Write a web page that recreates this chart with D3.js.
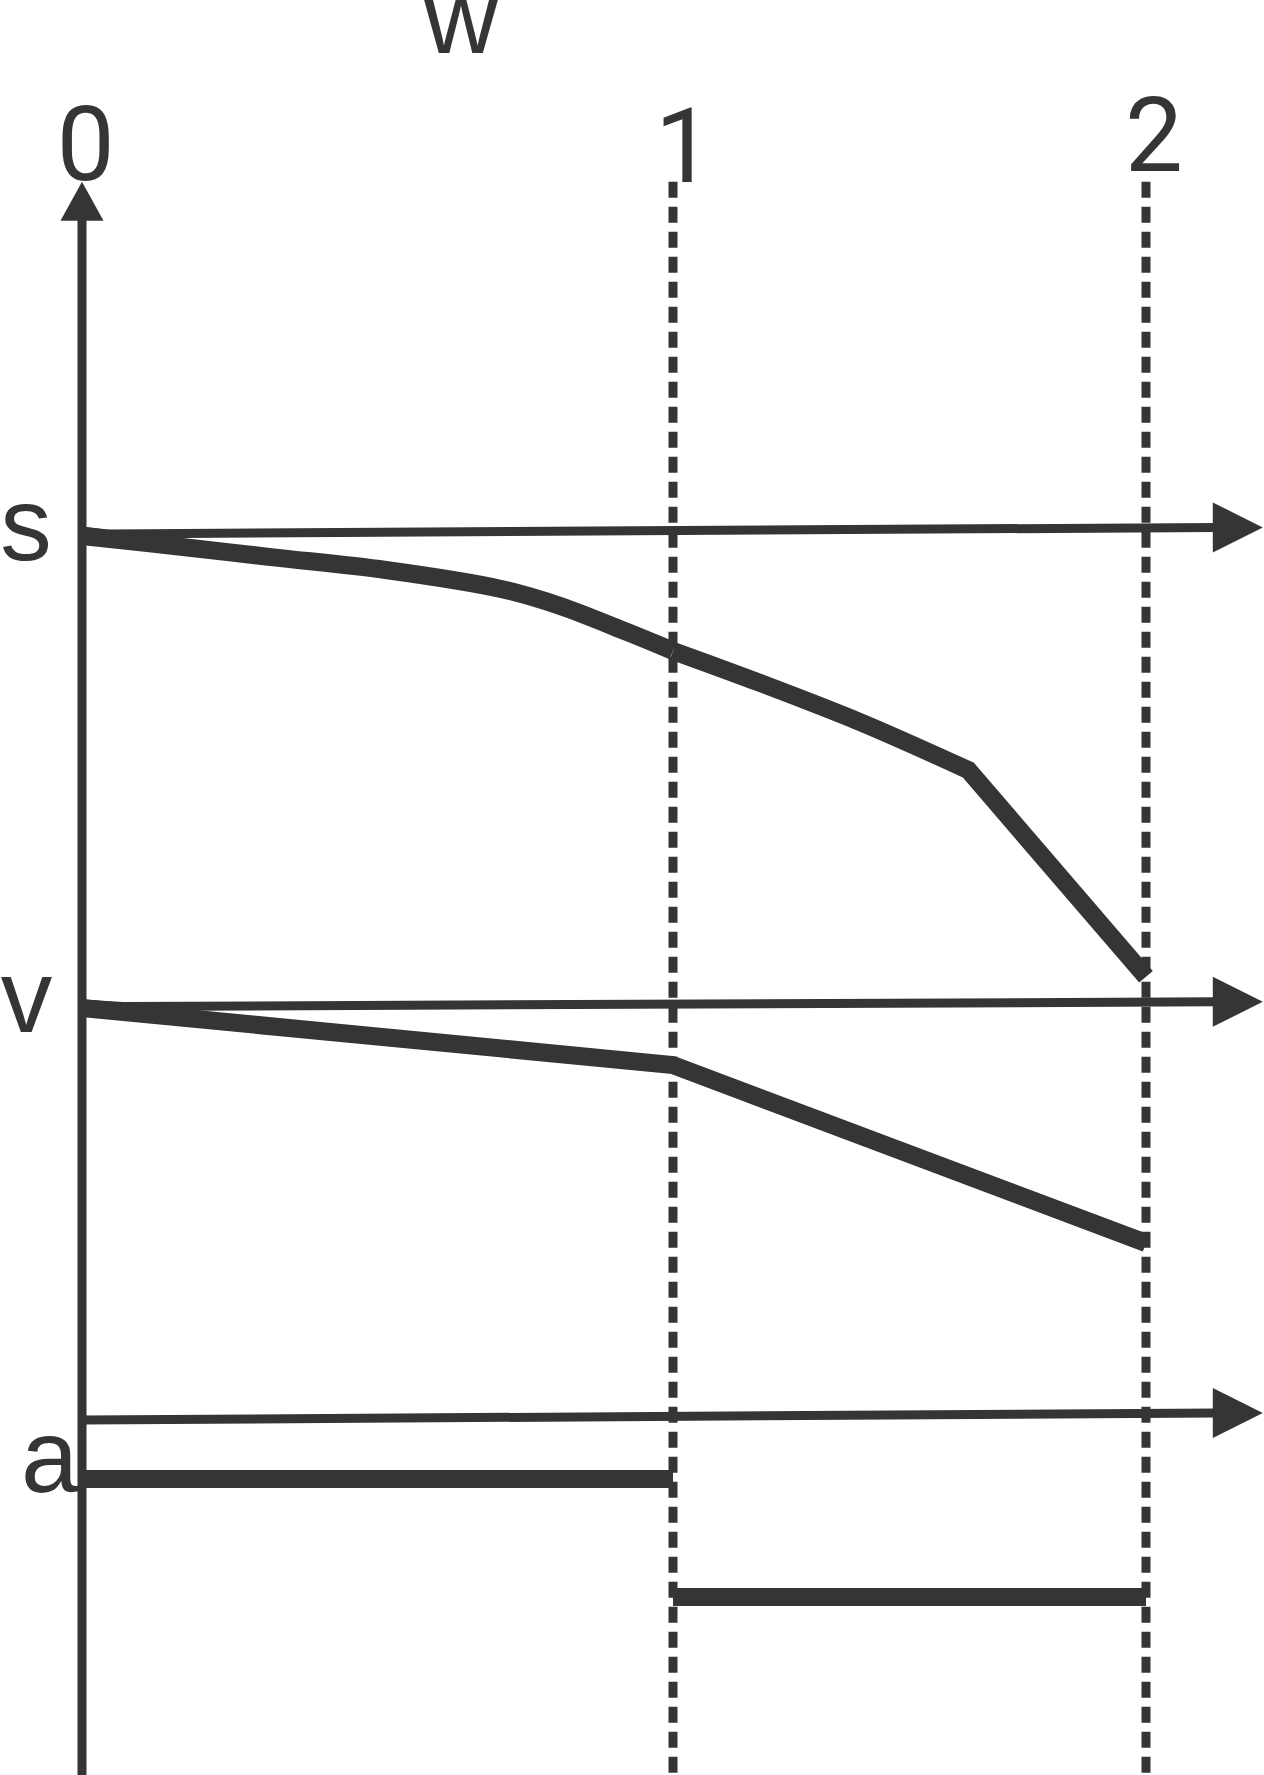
<!DOCTYPE html>
<html>
<head>
<meta charset="utf-8">
<script src="https://cdn.jsdelivr.net/npm/d3@7"></script>
<style>
  html, body { margin: 0; padding: 0; background: #fff; }
  svg { display: block; }
  text { font-family: "Liberation Sans", Arial, sans-serif; font-size: 103px; fill: #373435; }
  text.tick { font-family: Roboto, "Liberation Sans", Arial, sans-serif; }
</style>
</head>
<body>
<svg id="chart"></svg>
<script>
// ========= Data (x = w, y = level)
const wTicks = [0, 1, 2];
const xLabel = "w";
const rowLabels = ["s", "v", "a"];

// thin baseline arrows, one per row: [w, level]
const sBase = [[0, 78.08], [0.042, 77.89], [2.247, 78.30]];
const vBase = [[0, 48.39], [0.069, 48.23], [2.247, 48.53]];
const aBase = [[0, 22.28], [2.247, 22.72]];

// thick traces
const sLeft = [[0, 77.76], [0.126, 77.26], [0.32, 76.44], [0.514, 75.63], [0.709, 74.44], [0.809, 73.37], [0.922, 71.74], [1, 70.55]];
const sRightBend = [[1, 70.55], [1.184, 68.54], [1.395, 66.09], [1.624, 63.08]];
const sRightEnd = [2, 50.10];
const vTrace = [[0, 48.14], [1, 44.56], [2, 33.39]];
const aLeft = [[0, 18.58], [1, 18.58]];
const aRight = [[1, 11.17], [2, 11.17]];

// ========= Layout
const width = 1264, height = 1775;
const ink = "#373435";
const thin = 9, thick = 18;

const svg = d3.select("#chart").attr("width", width).attr("height", height);

const x = d3.scaleLinear().domain([0, 1, 2]).range([82, 673, 1146]);
const y = d3.scaleLinear().domain([0, 100]).range([height, 181.7]);

const line = d3.line().x(d => x(d[0])).y(d => y(d[1]));

// ========= Dashed guides at w = 1, 2
svg.selectAll("line.guide")
    .data(wTicks.filter(d => d > 0))
    .enter()
    .append("line")
    .attr("class", "guide")
    .attr("x1", d => x(d)).attr("x2", d => x(d))
    .attr("y1", y(100)).attr("y2", height)
    .attr("stroke", ink)
    .attr("stroke-width", thin)
    .attr("stroke-dasharray", "16 9");

// ========= Vertical axis with arrow
const axTipY = y(100), axLen = 39, axHalf = 21.5;
svg.append("line")
    .attr("x1", x(0)).attr("x2", x(0))
    .attr("y1", y(0)).attr("y2", axTipY + axLen - 2)
    .attr("stroke", ink)
    .attr("stroke-width", thin);

svg.append("path")
    .attr("d", `M${x(0)},${axTipY} L${x(0) - axHalf},${axTipY + axLen} L${x(0) + axHalf},${axTipY + axLen} Z`)
    .attr("fill", ink);

// ========= Row baselines (thin arrows)
const arrLen = 50, arrHalf = 25;
[sBase, vBase, aBase].forEach(pts => {
    const px = pts.map(d => [x(d[0]), y(d[1])]);
    const tip = px[px.length - 1];
    const body = px.slice(0, -1).concat([[tip[0] - arrLen + 4, tip[1]]]);
    svg.append("path")
        .attr("d", d3.line()(body))
        .attr("fill", "none")
        .attr("stroke", ink)
        .attr("stroke-width", thin)
        .attr("stroke-linejoin", "miter");
    svg.append("path")
        .attr("d", `M${tip[0]},${tip[1]} L${tip[0] - arrLen},${tip[1] - arrHalf} L${tip[0] - arrLen},${tip[1] + arrHalf} Z`)
        .attr("fill", ink);
});

// ========= Thick traces
const smooth = d3.line().x(d => x(d[0])).y(d => y(d[1])).curve(d3.curveCatmullRom.alpha(0.5));
const traceD = [
    smooth(sLeft),
    // bend smoothly, then a sharp corner into the straight drop
    smooth(sRightBend) + `L${x(sRightEnd[0])},${y(sRightEnd[1])}`,
    line(vTrace),
    line(aLeft),
    line(aRight),
];
svg.selectAll("path.trace")
    .data(traceD)
    .enter()
    .append("path")
    .attr("class", "trace")
    .attr("d", d => d)
    .attr("fill", "none")
    .attr("stroke", ink)
    .attr("stroke-width", thick)
    .attr("stroke-linejoin", "miter")
    .attr("stroke-miterlimit", 10)
    .attr("stroke-linecap", "butt");

// ========= Labels
// tick labels above the guides
const tickNudge = { 0: [3.8, -1.7], 1: [11, 0], 2: [8, -11] };
svg.selectAll("text.tick")
    .data(wTicks)
    .enter()
    .append("text")
    .attr("class", "tick")
    .attr("text-anchor", "middle")
    .attr("x", d => x(d) + tickNudge[d][0])
    .attr("y", d => y(100) + tickNudge[d][1])
    .text(d => d);

// axis title
svg.append("text")
    .attr("text-anchor", "middle")
    .attr("x", 461)
    .attr("y", 53)
    .text(xLabel);

// row labels, placed relative to each baseline
const rowBases = { s: sBase, v: vBase, a: aBase };
const rowNudge = { s: [-56, 29.5], v: [-55.5, 28], a: [-32.3, 71.5] };
svg.selectAll("text.row")
    .data(rowLabels)
    .enter()
    .append("text")
    .attr("class", "row")
    .attr("text-anchor", "middle")
    .attr("x", d => x(0) + rowNudge[d][0])
    .attr("y", d => y(rowBases[d][0][1]) + rowNudge[d][1])
    .text(d => d);
</script>
</body>
</html>
